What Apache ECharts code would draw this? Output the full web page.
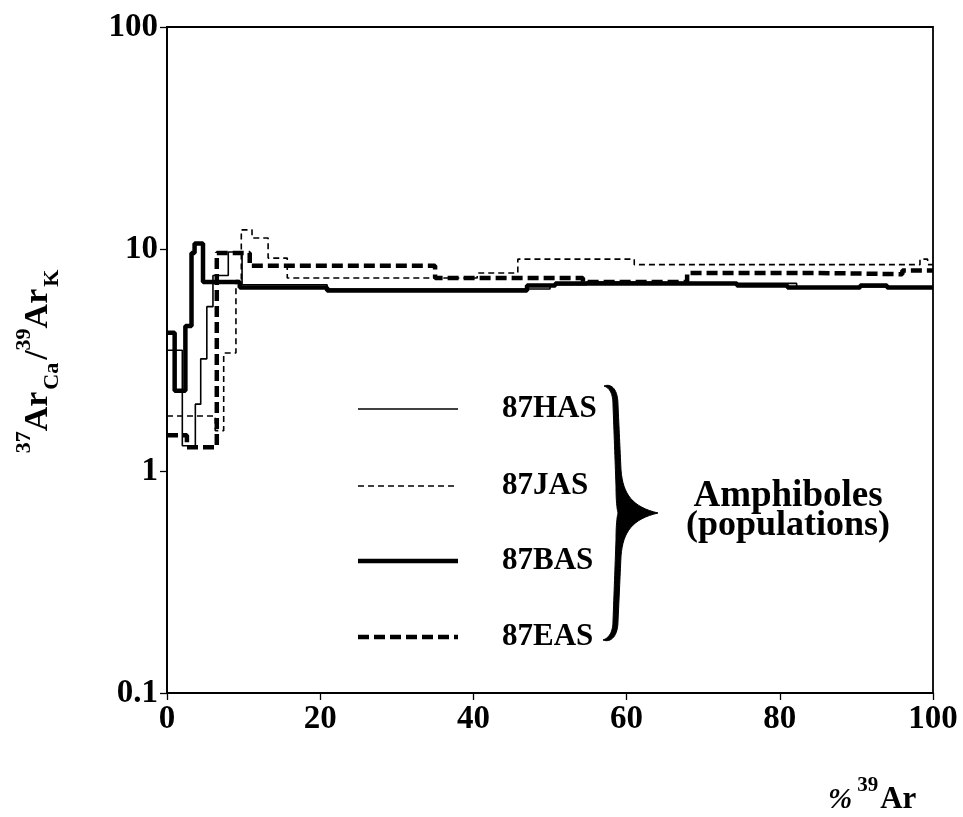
<!DOCTYPE html>
<html><head><meta charset="utf-8">
<script src="https://cdn.jsdelivr.net/npm/echarts@6/dist/echarts.min.js"></script>
<style>html,body{margin:0;padding:0;background:#fff}#c{width:963px;height:817px}</style>
</head><body><div id="c"></div>
<script>
const FONT = '"Liberation Serif","Times New Roman",serif';
const seriesNames = ['87HAS', '87JAS', '87BAS', '87EAS'];
const xTicks = [0, 20, 40, 60, 80, 100];
const yTicks = [0.1, 1, 10, 100];

// step start (% 39Ar) and value of each step
const hasX = [0, 2.0, 3.7, 4.4, 5.2, 6.0, 8.0, 9.8, 20.9, 50.0, 54.8, 62.0, 74.4, 82.2];
const hasV = [3.5, 1.3, 2.0, 3.2, 5.5, 7.6, 9.7, 6.9, 6.6, 6.9, 7.1, 7.0, 7.0, 6.75];

const jasX = [0, 6.3, 7.4, 9.0, 9.7, 11.1, 13.2, 15.7, 40.5, 45.8, 61.0, 98.3, 99.3];
const jasV = [1.77, 1.52, 3.4, 7.2, 12.2, 11.2, 9.1, 7.4, 7.8, 9.0, 8.5, 9.0, 8.5];

const basX = [0, 1.0, 2.4, 3.2, 3.6, 4.7, 9.5, 20.9, 47.0, 50.7, 74.4, 81.0, 90.5, 94.0];
const basV = [4.2, 2.3, 4.5, 9.6, 10.6, 7.1, 6.7, 6.5, 6.85, 7.0, 6.85, 6.7, 6.85, 6.7];

const easX = [0, 2.6, 6.5, 10.8, 35.0, 54.3, 67.9, 84.9, 96.0];
const easV = [1.45, 1.28, 9.6, 8.4, 7.4, 7.1, 7.8, 7.7, 8.0];

function steps(xs, vs) {
  const d = xs.map((x, i) => [x, vs[i]]);
  d.push([100, vs[vs.length - 1]]);
  return d;
}

const styles = {
  '87HAS': { color: '#000', width: 1.6, type: 'solid' },
  '87JAS': { color: '#000', width: 1.6, type: [6, 4] },
  '87BAS': { color: '#000', width: 4.5, type: 'solid' },
  '87EAS': { color: '#000', width: 4.5, type: [11, 5] }
};

// curly brace outline (decoration), built from cubic segments
function bracePoints() {
  const segs = [
    [[604,386],[612,383],[618,390],[618,405]],
    [[618,405],[619,427],[620,448],[621,470]],
    [[621,470],[623,495],[633,507],[658,513]],
    [[658,513],[633,519],[623,531],[621,556]],
    [[621,556],[620,578],[619,600],[618,621]],
    [[618,621],[618,636],[611,643],[603,640]],
    [[603,640],[609,638],[613,632],[613,621]],
    [[613,621],[614,594],[615,567],[616,540]],
    [[616,540],[616,525],[617,517],[618,513]],
    [[618,513],[617,509],[616,501],[616,486]],
    [[616,486],[615,459],[614,432],[613,405]],
    [[613,405],[613,394],[610,388],[604,386]]
  ];
  const pts = [];
  segs.forEach(s => {
    for (let i = 0; i < 16; i++) {
      const t = i / 16, u = 1 - t;
      pts.push([
        u*u*u*s[0][0] + 3*u*u*t*s[1][0] + 3*u*t*t*s[2][0] + t*t*t*s[3][0],
        u*u*u*s[0][1] + 3*u*u*t*s[1][1] + 3*u*t*t*s[2][1] + t*t*t*s[3][1]
      ]);
    }
  });
  return pts;
}

const bold = { fontFamily: FONT, fontWeight: 'bold', color: '#000' };
function B(o) { return Object.assign({}, bold, o); }

// legend drawn as graphic elements
const legendRows = [409, 486, 561, 637];
const legendGraphics = [];
seriesNames.forEach((n, i) => {
  const s = styles[n];
  legendGraphics.push({
    type: 'line', z: 10,
    shape: { x1: 358, y1: legendRows[i], x2: 458, y2: legendRows[i] },
    style: { stroke: s.color, lineWidth: s.width, lineDash: s.type === 'solid' ? null : s.type }
  });
  legendGraphics.push({
    type: 'text', z: 10,
    style: { text: n, x: 502, y: legendRows[i], textAlign: 'left', textVerticalAlign: 'middle',
             fontSize: 31, fill: '#000', fontFamily: FONT, fontWeight: 'bold' }
  });
});

try {
const chart = echarts.init(document.getElementById('c'), null, { renderer: 'canvas' });
chart.setOption({
  animation: false,
  backgroundColor: '#fff',
  grid: { left: 167, right: 30, top: 27, bottom: 124, show: true, borderColor: '#000', borderWidth: 1.8 },
  title: {
    text: '{p|%}{sup|39}{b|Ar}',
    left: 823, top: 770,
    textStyle: {
      rich: {
        p: B({ fontSize: 29, lineHeight: 40, verticalAlign: 'bottom', fontStyle: 'italic' }),
        sup: B({ fontSize: 21, lineHeight: 40, verticalAlign: 'top', padding: [0, 2, 0, 5] }),
        b: B({ fontSize: 31, lineHeight: 40, verticalAlign: 'bottom' })
      }
    }
  },
  xAxis: {
    type: 'value', min: 0, max: 100, interval: 20,
    axisLine: { lineStyle: { color: '#000', width: 1.8 } },
    axisTick: { show: true, length: 7, lineStyle: { color: '#000', width: 1.3 } },
    splitLine: { show: false },
    axisLabel: B({ fontSize: 33, margin: 10 })
  },
  yAxis: {
    type: 'log', logBase: 10, min: 0.1, max: 100,
    axisLine: { show: true, lineStyle: { color: '#000', width: 1.8 } },
    axisTick: { show: true, length: 7, lineStyle: { color: '#000', width: 1.3 } },
    splitLine: { show: false },
    axisLabel: B({ fontSize: 33, margin: 9, formatter: v => String(v) }),
    name: '{sup|37}{b|Ar}{sub|Ca}{b|/}{sup|39}{b|Ar}{sub|K}',
    nameLocation: 'middle', nameRotate: 90, nameGap: 104,
    nameTextStyle: {
      rich: {
        b: B({ fontSize: 34, lineHeight: 50, verticalAlign: 'middle' }),
        sup: B({ fontSize: 22, lineHeight: 50, verticalAlign: 'top' }),
        sub: B({ fontSize: 22, lineHeight: 50, verticalAlign: 'bottom', padding: [0, 3, 0, 2] })
      }
    }
  },
  series: [
    { name: '87BAS', type: 'line', step: 'end', symbol: 'none', data: steps(basX, basV), z: 2,
      lineStyle: styles['87BAS'], itemStyle: { color: '#000' } },
    { name: '87EAS', type: 'line', step: 'end', symbol: 'none', data: steps(easX, easV), z: 3,
      lineStyle: styles['87EAS'], itemStyle: { color: '#000' } },
    { name: '87HAS', type: 'line', step: 'end', symbol: 'none', data: steps(hasX, hasV), z: 4,
      lineStyle: styles['87HAS'], itemStyle: { color: '#000' } },
    { name: '87JAS', type: 'line', step: 'end', symbol: 'none', data: steps(jasX, jasV), z: 5,
      lineStyle: styles['87JAS'], itemStyle: { color: '#000' } }
  ],
  graphic: legendGraphics.concat([
    { type: 'polygon', z: 10, shape: { points: bracePoints() },
      style: { fill: '#000', stroke: '#000', lineWidth: 1 } },
    { type: 'text', z: 10,
      style: { text: 'Amphiboles', x: 788, y: 496, textAlign: 'center', textVerticalAlign: 'middle', fontSize: 37, fill: '#000', fontFamily: FONT, fontWeight: 'bold' } },
    { type: 'text', z: 10,
      style: { text: '(populations)', x: 788, y: 526, textAlign: 'center', textVerticalAlign: 'middle', fontSize: 36, fill: '#000', fontFamily: FONT, fontWeight: 'bold' } }
  ])
});
} catch (err) {
  const p = document.createElement('pre'); p.textContent = err.stack; p.style.cssText = 'position:absolute;top:0;left:0;font-size:12px';
  document.body.appendChild(p);
}
</script>
</body></html>
